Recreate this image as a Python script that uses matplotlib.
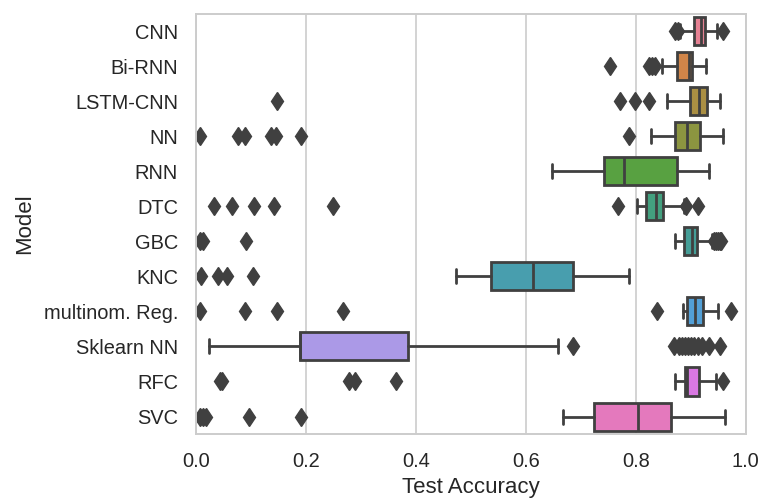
import colorsys

import matplotlib
matplotlib.use('Agg')
import matplotlib.pyplot as plt
import seaborn as sns

models = ['CNN', 'Bi-RNN', 'LSTM-CNN', 'NN', 'RNN', 'DTC', 'GBC', 'KNC',
          'multinom. Reg.', 'Sklearn NN', 'RFC', 'SVC']

q1 = [0.906, 0.875, 0.898, 0.872, 0.743, 0.819, 0.888, 0.537, 0.893, 0.189, 0.889, 0.725]
med = [0.919, 0.897, 0.915, 0.893, 0.779, 0.836, 0.903, 0.613, 0.907, 0.189, 0.894, 0.804]
q3 = [0.926, 0.903, 0.929, 0.917, 0.875, 0.850, 0.912, 0.685, 0.922, 0.385, 0.915, 0.865]
whislo = [0.881, 0.848, 0.857, 0.827, 0.647, 0.802, 0.872, 0.473, 0.886, 0.024, 0.871, 0.668]
whishi = [0.948, 0.928, 0.954, 0.959, 0.933, 0.888, 0.938, 0.787, 0.950, 0.659, 0.946, 0.962]

fliers = [
    [0.872, 0.876, 0.958],
    [0.754, 0.824, 0.829, 0.835],
    [0.147, 0.771, 0.798, 0.824],
    [0.008, 0.076, 0.089, 0.136, 0.145, 0.191, 0.788],
    [],
    [0.033, 0.066, 0.105, 0.142, 0.250, 0.767, 0.892, 0.913],
    [0.007, 0.013, 0.091, 0.942, 0.946, 0.950, 0.953, 0.956],
    [0.009, 0.040, 0.056, 0.104],
    [0.007, 0.089, 0.148, 0.267, 0.839, 0.974],
    [0.685, 0.870, 0.878, 0.885, 0.890, 0.895, 0.900, 0.906, 0.913, 0.920, 0.933, 0.954],
    [0.043, 0.047, 0.279, 0.289, 0.364, 0.959],
    [0.008, 0.013, 0.019, 0.097, 0.191],
]

sns.set_style('whitegrid')
plt.rcParams['font.family'] = ['Liberation Sans', 'DejaVu Sans']

palette = [sns.desaturate(c, 0.75) for c in sns.color_palette('husl', len(models))]
lum = min(colorsys.rgb_to_hls(*c)[1] for c in palette) * 0.6
gray = (lum, lum, lum)

stats = []
for i, name in enumerate(models):
    stats.append(dict(label=name, q1=q1[i], med=med[i], q3=q3[i],
                      whislo=whislo[i], whishi=whishi[i], fliers=fliers[i]))

fig = plt.figure(figsize=(7.64, 4.98), dpi=100)
ax = fig.add_axes([0.2565, 0.1285, 0.7195, 0.8435])

lw = 2.0
bp = ax.bxp(stats, positions=range(len(models)), vert=False, widths=0.8,
            patch_artist=True, showfliers=True,
            boxprops=dict(edgecolor=gray, linewidth=lw),
            whiskerprops=dict(color=gray, linewidth=lw),
            capprops=dict(color=gray, linewidth=lw),
            medianprops=dict(color=gray, linewidth=lw),
            flierprops=dict(marker='d', markerfacecolor=gray, markeredgecolor=gray,
                            markersize=9.5, markeredgewidth=1.0, linestyle='none'))
for box, col in zip(bp['boxes'], palette):
    box.set_facecolor(col)

ax.set_xlim(0, 1.0)
ax.set_ylim(len(models) - 0.5, -0.5)
ax.set_yticks(range(len(models)))
ax.set_yticklabels(models)
ax.yaxis.grid(False)
ax.xaxis.grid(True, color='#cccccc', linewidth=1.2)
ax.set_axisbelow(True)
for s in ax.spines.values():
    s.set_color('#cccccc')
    s.set_linewidth(1.4)
ax.tick_params(axis='both', labelsize=14.4, colors='#262626', pad=9.5)
ax.set_xlabel('Test Accuracy', fontsize=16, color='#262626', labelpad=4)
ax.set_ylabel('Model', fontsize=16, color='#262626', labelpad=6)

fig.savefig('out.png', dpi=100)
